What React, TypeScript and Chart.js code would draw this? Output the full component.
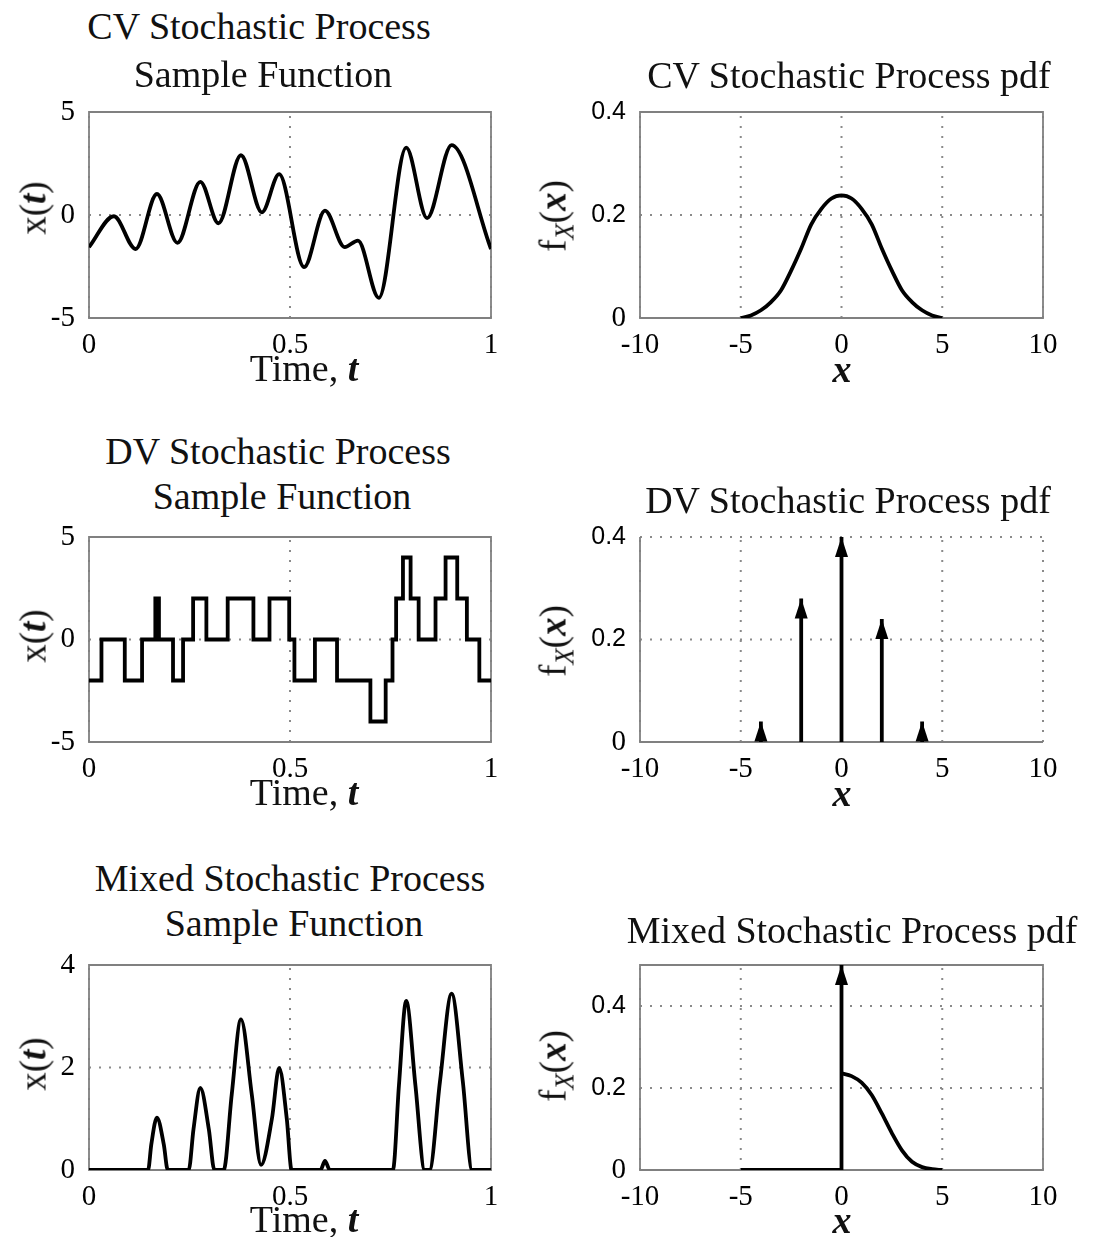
import { useEffect, useRef } from 'react';
import { Chart, registerables } from 'chart.js';

Chart.register(...registerables);

// ---------------- data ----------------
// CV sample function (extrema)
const cvTime = [0, 0.062, 0.116, 0.169, 0.22, 0.277, 0.322, 0.378, 0.43, 0.473, 0.535, 0.587, 0.636, 0.669, 0.721, 0.789, 0.841, 0.902, 1];
const cvValue = [-1.56, -0.06, -1.65, 1.02, -1.35, 1.61, -0.4, 2.9, 0.13, 1.98, -2.53, 0.21, -1.56, -1.24, -4.02, 3.27, -0.15, 3.39, -1.65];

// DV sample function (value holds from each time until the next)
const dvTime = [0, 0.031, 0.089, 0.132, 0.165, 0.174, 0.209, 0.234, 0.259, 0.292, 0.345, 0.409, 0.449, 0.498, 0.511, 0.562, 0.617, 0.7, 0.738, 0.755, 0.764, 0.781, 0.8, 0.82, 0.862, 0.887, 0.916, 0.94, 0.971, 1];
const dvValue = [-2, 0, -2, 0, 2, 0, -2, 0, 2, 0, 2, 0, 2, 0, -2, 0, -2, -4, -2, 0, 2, 4, 2, 0, 2, 4, 2, 0, -2, -2];

// Mixed sample function
const mixTime = [0, 0.147, 0.155, 0.169, 0.186, 0.196, 0.248, 0.26, 0.277, 0.298, 0.312, 0.335, 0.355, 0.378, 0.405, 0.428, 0.455, 0.473, 0.492, 0.504, 0.576, 0.587, 0.599, 0.756, 0.771, 0.789, 0.812, 0.835, 0.847, 0.873, 0.902, 0.93, 0.953, 1];
const mixValue = [0, 0, 0.5, 1.02, 0.5, 0, 0, 0.8, 1.6, 0.8, 0, 0, 1.47, 2.94, 1.47, 0.1, 1.0, 1.99, 1.0, 0, 0, 0.18, 0, 0, 1.65, 3.3, 1.65, 0, 0, 1.72, 3.44, 1.72, 0, 0];

// CV pdf
const cvPdfX = [-5, -4.5, -4, -3.5, -3, -2.5, -2, -1.5, -1, -0.5, 0, 0.5, 1, 1.5, 2, 2.5, 3, 3.5, 4, 4.5, 5];
const cvPdfY = [0, 0.005, 0.015, 0.031, 0.054, 0.092, 0.135, 0.182, 0.212, 0.232, 0.238, 0.232, 0.212, 0.182, 0.135, 0.092, 0.054, 0.031, 0.015, 0.005, 0];

// DV pdf impulses
const dvPdfX = [-4, -2, 0, 2, 4];
const dvPdfP = [0.04, 0.28, 0.4, 0.24, 0.04];

// Mixed pdf: flat part, continuous part, impulse at 0
const mixFlatX = [-5, 0];
const mixFlatY = [0, 0];
const mixPdfX = [0, 0.5, 1, 1.5, 2, 2.5, 3, 3.5, 4, 4.5, 5];
const mixPdfY = [0.236, 0.229, 0.213, 0.183, 0.138, 0.09, 0.048, 0.02, 0.007, 0.002, 0];
const mixImpulseX = [0];
const mixImpulseP = [0.5];

// ticks
const timeTicks = [0, 0.5, 1];
const timeTickLabels = ['0', '0.5', '1'];
const cvTicks = [-5, 0, 5];
const cvTickLabels = ['-5', '0', '5'];
const mixTicks = [0, 2, 4];
const mixTickLabels = ['0', '2', '4'];
const pdfXTicks = [-10, -5, 0, 5, 10];
const pdfXTickLabels = ['-10', '-5', '0', '5', '10'];
const pdfYTicks = [0, 0.2, 0.4];
const pdfYTickLabels = ['0', '0.2', '0.4'];

// ---------------- helpers ----------------
const SERIF = '"Liberation Serif", "Times New Roman", serif';
const SANS = '"Liberation Sans", Arial, sans-serif';

const xy = (xs: number[], ys: number[]) => xs.map((x, i) => ({ x, y: ys[i] }));

const gridAndBox = {
  id: 'gridAndBox',
  beforeDatasetsDraw(chart: any, _args: any, opts: any) {
    const { ctx, chartArea: a, scales } = chart;
    const xs = scales.x;
    const ys = scales.y;
    ctx.save();
    ctx.lineWidth = 2;
    ctx.strokeStyle = '#8a8a8a';
    ctx.setLineDash([2, 8]);
    xs.ticks.forEach((t: any) => {
      const p = xs.getPixelForValue(t.value);
      ctx.beginPath();
      ctx.moveTo(p, a.bottom);
      ctx.lineTo(p, a.top);
      ctx.stroke();
    });
    ys.ticks.forEach((t: any) => {
      const p = ys.getPixelForValue(t.value);
      ctx.beginPath();
      ctx.moveTo(a.left, p);
      ctx.lineTo(a.right, p);
      ctx.stroke();
    });
    ctx.setLineDash([]);
    ctx.strokeStyle = '#808080';
    ctx.lineWidth = 1.8;
    ctx.beginPath();
    if (opts && opts.box) {
      ctx.rect(a.left, a.top, a.right - a.left, a.bottom - a.top);
    } else {
      ctx.moveTo(a.left, a.top);
      ctx.lineTo(a.left, a.bottom);
      ctx.lineTo(a.right, a.bottom);
    }
    ctx.stroke();
    ctx.restore();
  },
};

const arrowHeads = {
  id: 'arrowHeads',
  afterDatasetsDraw(chart: any) {
    const ctx = chart.ctx;
    chart.data.datasets.forEach((ds: any, i: number) => {
      if (!ds.arrow) return;
      const pts = chart.getDatasetMeta(i).data;
      if (pts.length < 2) return;
      const tip = pts[pts.length - 1];
      const base = pts[pts.length - 2];
      const dx = tip.x - base.x;
      const dy = tip.y - base.y;
      const len = Math.hypot(dx, dy) || 1;
      const ux = dx / len;
      const uy = dy / len;
      const L = 20;
      const W = 6.5;
      ctx.save();
      ctx.fillStyle = '#000';
      ctx.beginPath();
      ctx.moveTo(tip.x, tip.y);
      ctx.lineTo(tip.x - ux * L - uy * W, tip.y - uy * L + ux * W);
      ctx.lineTo(tip.x - ux * L + uy * W, tip.y - uy * L - ux * W);
      ctx.closePath();
      ctx.fill();
      ctx.restore();
    });
  },
};

const PL = 80;
const PT = 20;
const PR = 30;
const PB = 50;

type AxisSpec = { min: number; max: number; ticks: number[]; labels: string[] };

function makeConfig(datasets: any[], xa: AxisSpec, ya: AxisSpec, box: boolean, sansY: boolean): any {
  const serifFont = { family: SERIF, size: 29 };
  const sansFont = { family: SANS, size: 25 };
  return {
    type: 'line',
    data: { datasets },
    options: {
      animation: false,
      responsive: false,
      maintainAspectRatio: false,
      events: [],
      layout: { padding: { top: PT, right: PR, left: 0, bottom: 0 } },
      plugins: {
        legend: { display: false },
        tooltip: { enabled: false },
        gridAndBox: { box },
      },
      elements: { point: { radius: 0 } },
      scales: {
        x: {
          type: 'linear',
          min: xa.min,
          max: xa.max,
          grid: { display: false },
          border: { display: false },
          afterBuildTicks: (s: any) => {
            s.ticks = xa.ticks.map((v) => ({ value: v }));
          },
          afterFit: (s: any) => {
            s.height = PB;
            s.paddingLeft = 0;
            s.paddingRight = 0;
          },
          ticks: {
            color: '#000',
            padding: 2,
            maxRotation: 0,
            autoSkip: false,
            font: serifFont,
            callback: (_v: any, i: number) => xa.labels[i],
          },
        },
        y: {
          type: 'linear',
          min: ya.min,
          max: ya.max,
          grid: { display: false },
          border: { display: false },
          afterBuildTicks: (s: any) => {
            s.ticks = ya.ticks.map((v) => ({ value: v }));
          },
          afterFit: (s: any) => {
            s.width = PL;
            s.paddingTop = 0;
            s.paddingBottom = 0;
          },
          ticks: {
            color: '#000',
            padding: 6,
            autoSkip: false,
            font: (c: any) => (sansY && c.tick && c.tick.value !== 0 ? sansFont : serifFont),
            callback: (_v: any, i: number) => ya.labels[i],
          },
        },
      },
    },
    plugins: [gridAndBox, arrowHeads],
  };
}

const lineStyle = { borderColor: '#000', backgroundColor: '#000', borderWidth: 3.8, pointRadius: 0, fill: false };

function Panel({ L, T, R, B, build }: { L: number; T: number; R: number; B: number; build: () => any }) {
  const ref = useRef<HTMLCanvasElement>(null);
  const w = R - L + PL + PR;
  const h = B - T + PT + PB;
  useEffect(() => {
    const chart = new Chart(ref.current as HTMLCanvasElement, build());
    return () => chart.destroy();
  }, []);
  return (
    <canvas
      ref={ref}
      width={w}
      height={h}
      style={{ position: 'absolute', left: L - PL, top: T - PT, width: w, height: h }}
    />
  );
}

const FS_TITLE = 38;
const FS_LABEL = 37;

function Title({ cx, base, text }: { cx: number; base: number; text: string }) {
  return (
    <div
      style={{
        position: 'absolute',
        left: cx,
        top: base - 0.8375 * FS_TITLE,
        transform: 'translateX(-50%)',
        fontFamily: SERIF,
        fontSize: FS_TITLE,
        lineHeight: `${FS_TITLE}px`,
        whiteSpace: 'nowrap',
        color: '#111',
      }}
    >
      {text}
    </div>
  );
}

function XLabel({ cx, base, children }: { cx: number; base: number; children: any }) {
  return (
    <div
      style={{
        position: 'absolute',
        left: cx,
        top: base - 0.8375 * FS_TITLE,
        transform: 'translateX(-50%)',
        fontFamily: SERIF,
        fontSize: FS_TITLE,
        lineHeight: `${FS_TITLE}px`,
        whiteSpace: 'nowrap',
        color: '#111',
      }}
    >
      {children}
    </div>
  );
}

function YLabel({ base, cy, children }: { base: number; cy: number; children: any }) {
  return (
    <div
      style={{
        position: 'absolute',
        left: base - 0.3375 * FS_LABEL,
        top: cy,
        transform: 'translate(-50%, -50%) rotate(-90deg)',
        fontFamily: SERIF,
        fontSize: FS_LABEL,
        lineHeight: `${FS_LABEL}px`,
        whiteSpace: 'nowrap',
        color: '#111',
      }}
    >
      {children}
    </div>
  );
}

const xt = (
  <>
    x(<b><i>t</i></b>)
  </>
);
const fx = (
  <>
    f<span style={{ position: 'relative', top: '0.3em', fontSize: '0.72em', fontStyle: 'italic' }}>X</span>(<b><i>x</i></b>)
  </>
);
const timeLabel = (
  <>
    Time, <b><i>t</i></b>
  </>
);
const xLabel = (
  <b><i>x</i></b>
);

const LEFT = { L: 89, R: 491 };
const RIGHT = { L: 640, R: 1043 };
const ROWS = [
  { T: 112, B: 318 },
  { T: 537, B: 742 },
  { T: 965, B: 1170 },
];

export default function App() {
  const timeAxis: AxisSpec = { min: 0, max: 1, ticks: timeTicks, labels: timeTickLabels };
  const pdfXAxis: AxisSpec = { min: -10, max: 10, ticks: pdfXTicks, labels: pdfXTickLabels };

  return (
    <div style={{ position: 'absolute', left: 0, top: 0, width: 1099, height: 1237, background: '#fff', overflow: 'hidden' }}>
      {/* Row 1 */}
      <Panel
        {...LEFT}
        {...ROWS[0]}
        build={() =>
          makeConfig(
            [{ ...lineStyle, data: xy(cvTime, cvValue), cubicInterpolationMode: 'monotone' }],
            timeAxis,
            { min: -5, max: 5, ticks: cvTicks, labels: cvTickLabels },
            true,
            false
          )
        }
      />
      <Panel
        {...RIGHT}
        {...ROWS[0]}
        build={() =>
          makeConfig(
            [{ ...lineStyle, data: xy(cvPdfX, cvPdfY), cubicInterpolationMode: 'monotone' }],
            pdfXAxis,
            { min: 0, max: 0.4, ticks: pdfYTicks, labels: pdfYTickLabels },
            true,
            true
          )
        }
      />
      {/* Row 2 */}
      <Panel
        {...LEFT}
        {...ROWS[1]}
        build={() =>
          makeConfig(
            [{ ...lineStyle, data: xy(dvTime, dvValue), stepped: true }],
            timeAxis,
            { min: -5, max: 5, ticks: cvTicks, labels: cvTickLabels },
            true,
            false
          )
        }
      />
      <Panel
        {...RIGHT}
        {...ROWS[1]}
        build={() =>
          makeConfig(
            dvPdfX.map((x, i) => ({ ...lineStyle, arrow: true, data: [{ x, y: 0 }, { x, y: dvPdfP[i] }] })),
            pdfXAxis,
            { min: 0, max: 0.4, ticks: pdfYTicks, labels: pdfYTickLabels },
            false,
            true
          )
        }
      />
      {/* Row 3 */}
      <Panel
        {...LEFT}
        {...ROWS[2]}
        build={() =>
          makeConfig(
            [{ ...lineStyle, data: xy(mixTime, mixValue), cubicInterpolationMode: 'monotone' }],
            timeAxis,
            { min: 0, max: 4, ticks: mixTicks, labels: mixTickLabels },
            true,
            false
          )
        }
      />
      <Panel
        {...RIGHT}
        {...ROWS[2]}
        build={() =>
          makeConfig(
            [
              { ...lineStyle, data: xy(mixFlatX, mixFlatY) },
              { ...lineStyle, data: xy(mixPdfX, mixPdfY), cubicInterpolationMode: 'monotone' },
              ...mixImpulseX.map((x, i) => ({ ...lineStyle, arrow: true, data: [{ x, y: 0 }, { x, y: mixImpulseP[i] }] })),
            ],
            pdfXAxis,
            { min: 0, max: 0.5, ticks: pdfYTicks, labels: pdfYTickLabels },
            true,
            true
          )
        }
      />

      {/* Titles */}
      <Title cx={259} base={39} text="CV Stochastic Process" />
      <Title cx={263} base={87} text="Sample Function" />
      <Title cx={849} base={88} text="CV Stochastic Process pdf" />
      <Title cx={278} base={464} text="DV Stochastic Process" />
      <Title cx={282} base={509} text="Sample Function" />
      <Title cx={848} base={513} text="DV Stochastic Process pdf" />
      <Title cx={290} base={891} text="Mixed Stochastic Process" />
      <Title cx={294} base={936} text="Sample Function" />
      <Title cx={852} base={943} text="Mixed Stochastic Process pdf" />

      {/* X axis labels */}
      <XLabel cx={304} base={381}>{timeLabel}</XLabel>
      <XLabel cx={842} base={382}>{xLabel}</XLabel>
      <XLabel cx={304} base={805}>{timeLabel}</XLabel>
      <XLabel cx={842} base={806}>{xLabel}</XLabel>
      <XLabel cx={304} base={1232}>{timeLabel}</XLabel>
      <XLabel cx={842} base={1233}>{xLabel}</XLabel>

      {/* Y axis labels */}
      <YLabel base={45} cy={208}>{xt}</YLabel>
      <YLabel base={567} cy={216}>{fx}</YLabel>
      <YLabel base={45} cy={636}>{xt}</YLabel>
      <YLabel base={567} cy={641}>{fx}</YLabel>
      <YLabel base={45} cy={1064}>{xt}</YLabel>
      <YLabel base={567} cy={1066}>{fx}</YLabel>
    </div>
  );
}
